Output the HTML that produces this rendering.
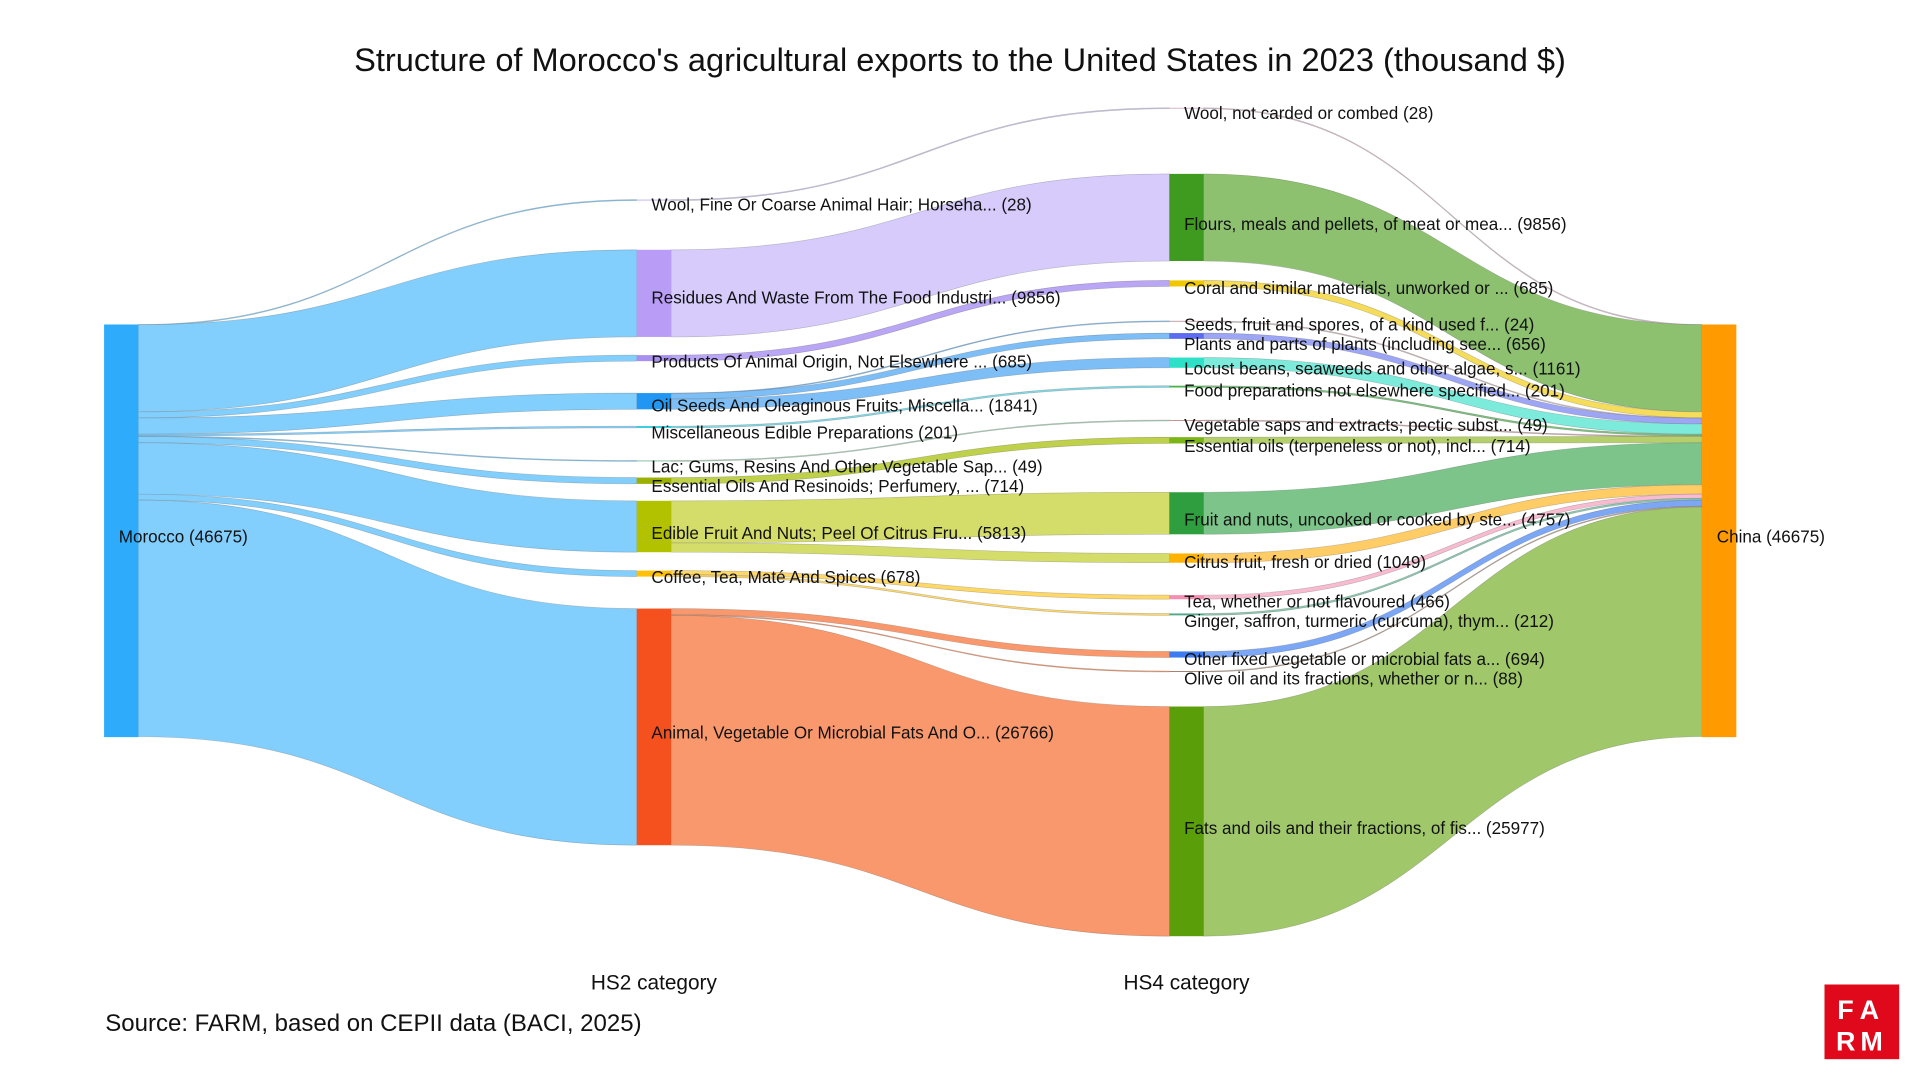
<!DOCTYPE html>
<html><head><meta charset="utf-8">
<style>
html,body{margin:0;padding:0;background:#fff;}
svg{display:block;font-family:"Liberation Sans",Arial,sans-serif;}
</style></head>
<body>
<svg id="s" width="1920" height="1080" viewBox="0 0 1568 882" xmlns="http://www.w3.org/2000/svg">
<rect width="1568" height="882" fill="#fff"/>
<text x="784" y="58" text-anchor="middle" font-size="26.6" fill="#111">Structure of Morocco's agricultural exports to the United States in 2023 (thousand $)</text>
<g id="links"></g>
<g id="nodes"></g>
<g id="labels" font-size="13.95" fill="#111"></g>
<text x="534" y="808" text-anchor="middle" font-size="17" fill="#111">HS2 category</text>
<text x="969" y="808" text-anchor="middle" font-size="17" fill="#111">HS4 category</text>
<text x="86" y="842" font-size="19.6" fill="#111">Source: FARM, based on CEPII data (BACI, 2025)</text>
<rect x="1490" y="804" width="61" height="61" fill="#E0091B"/>
<text x="1520.5" y="832" text-anchor="middle" font-size="22" font-weight="bold" fill="#fff" letter-spacing="6">FA</text>
<text x="1520.5" y="858" text-anchor="middle" font-size="22" font-weight="bold" fill="#fff" letter-spacing="4">RM</text>
</svg>
<script>
var k=337/46675;
function N(id,x,y,v,col,flow,label,ly){return {id:id,x:x,y:y,v:v,h:Math.max(v*k,0.8),col:col,flow:flow,label:label,ly:ly,so:0,to:0};}
var nodes=[
N('MA',85,265,46675,'#2EACFB','#82CEFC','Morocco (46675)',438),
N('CN',1390,265,46675,'#FF9A00','#FFB74D','China (46675)',438),
N('w2',520,163,28,'#C9B4F0','#D9CFF5','Wool, Fine Or Coarse Animal Hair; Horseha... (28)',167),
N('r2',520,204,9856,'#B89CF5','#D6CBFB','Residues And Waste From The Food Industri... (9856)',243),
N('p2',520,290,685,'#A890F0','#B9A6F5','Products Of Animal Origin, Not Elsewhere ... (685)',295),
N('o2',520,321,1841,'#2196F3','#7DBEF6','Oil Seeds And Oleaginous Fruits; Miscella... (1841)',331),
N('m2',520,348,201,'#26C6DA','#7FD9E6','Miscellaneous Edible Preparations (201)',353),
N('l2',520,376,49,'#88C0A0','#B0D8C0','Lac; Gums, Resins And Other Vegetable Sap... (49)',381),
N('e2',520,390,714,'#9BB000','#BFD04A','Essential Oils And Resinoids; Perfumery, ... (714)',397),
N('f2',520,409,5813,'#B2C100','#D4DC6A','Edible Fruit And Nuts; Peel Of Citrus Fru... (5813)',435),
N('c2',520,466,678,'#FFC107','#FFD866','Coffee, Tea, Maté And Spices (678)',471),
N('a2',520,497,26766,'#F4511E','#F9986C','Animal, Vegetable Or Microbial Fats And O... (26766)',598),
N('w4',955,88,28,'#D8B0C8','#E4C8D8','Wool, not carded or combed (28)',92),
N('fl',955,142,9856,'#3F9B1F','#8DC170','Flours, meals and pellets, of meat or mea... (9856)',183),
N('co',955,229,685,'#F0C800','#F5DC5A','Coral and similar materials, unworked or ... (685)',235),
N('se',955,262,24,'#C8A0A0','#D8C0C0','Seeds, fruit and spores, of a kind used f... (24)',265),
N('pl',955,272,656,'#5C6BF0','#9DA6F5','Plants and parts of plants (including see... (656)',281),
N('lo',955,292,1161,'#2EE0C8','#7DEBDC','Locust beans, seaweeds and other algae, s... (1161)',301),
N('fp',955,315,201,'#4CAF50','#7CC07E','Food preparations not elsewhere specified... (201)',319),
N('vs',955,343,49,'#C89090','#D8B0B0','Vegetable saps and extracts; pectic subst... (49)',347),
N('eo',955,357,714,'#7CB518','#B5D06A','Essential oils (terpeneless or not), incl... (714)',364),
N('fn',955,402,4757,'#2E9E3E','#7CC48A','Fruit and nuts, uncooked or cooked by ste... (4757)',424),
N('ci',955,452,1049,'#FFB300','#FFCC66','Citrus fruit, fresh or dried (1049)',459),
N('te',955,486,466,'#F48FB1','#F8BBD0','Tea, whether or not flavoured (466)',491),
N('gi',955,501,212,'#4DA888','#8CC8B0','Ginger, saffron, turmeric (curcuma), thym... (212)',507),
N('of',955,532,694,'#3D7CF0','#7BA7F5','Other fixed vegetable or microbial fats a... (694)',538),
N('ol',955,548,88,'#A08070','#C0A898','Olive oil and its fractions, whether or n... (88)',554),
N('fa',955,577,25977,'#5A9E0A','#A0C86A','Fats and oils and their fractions, of fis... (25977)',676)
];
var M={};nodes.forEach(function(n){M[n.id]=n;});
var L=[];
['w2','r2','p2','o2','m2','l2','e2','f2','c2','a2'].forEach(function(t){L.push(['MA',t,M[t].v]);});
var map={w2:['w4'],r2:['fl'],p2:['co'],o2:['se','pl','lo'],m2:['fp'],l2:['vs'],e2:['eo'],f2:['fn','ci'],c2:['te','gi'],a2:['of','ol','fa']};
for(var s in map)map[s].forEach(function(t){L.push([s,t,M[t].v]);});
['w4','fl','co','se','pl','lo','fp','vs','eo','fn','ci','te','gi','of','ol','fa'].forEach(function(s){L.push([s,'CN',M[s].v]);});
var bySrc={},byTgt={};
L.forEach(function(l){(bySrc[l[0]]=bySrc[l[0]]||[]).push(l);(byTgt[l[1]]=byTgt[l[1]]||[]).push(l);});
for(var s in bySrc){var a=bySrc[s].sort(function(p,q){return M[p[1]].y-M[q[1]].y;});var o=M[s].y;a.forEach(function(l){var h=Math.max(l[2]*k,0.8);l.sy=o;l.h=h;o+=l[2]*k;});}
for(var t in byTgt){var a=byTgt[t].sort(function(p,q){return M[p[0]].y-M[q[0]].y;});var o=M[t].y;a.forEach(function(l){l.ty=o;o+=l[2]*k;});}
var ns="http://www.w3.org/2000/svg";
var gl=document.getElementById('links'),gn=document.getElementById('nodes'),gt=document.getElementById('labels');
L.forEach(function(l){
 var s=M[l[0]],t=M[l[1]];var x0=s.x+28,x1=t.x,xm=(x0+x1)/2,h=l.h;
 var d='M'+x0+','+l.sy+'C'+xm+','+l.sy+' '+xm+','+l.ty+' '+x1+','+l.ty+'L'+x1+','+(l.ty+h)+'C'+xm+','+(l.ty+h)+' '+xm+','+(l.sy+h)+' '+x0+','+(l.sy+h)+'Z';
 var p=document.createElementNS(ns,'path');p.setAttribute('d',d);p.setAttribute('fill',s.flow);
 p.setAttribute('stroke','rgba(90,90,90,0.35)');p.setAttribute('stroke-width','0.5');gl.appendChild(p);
});
nodes.forEach(function(n){
 var r=document.createElementNS(ns,'rect');r.setAttribute('x',n.x);r.setAttribute('y',n.y);r.setAttribute('width',28);r.setAttribute('height',n.h);r.setAttribute('fill',n.col);gn.appendChild(r);
 var tx=document.createElementNS(ns,'text');tx.setAttribute('x',n.x+12);tx.setAttribute('y',n.ly+5);tx.textContent=n.label;gt.appendChild(tx);
});
</script>
</body></html>
